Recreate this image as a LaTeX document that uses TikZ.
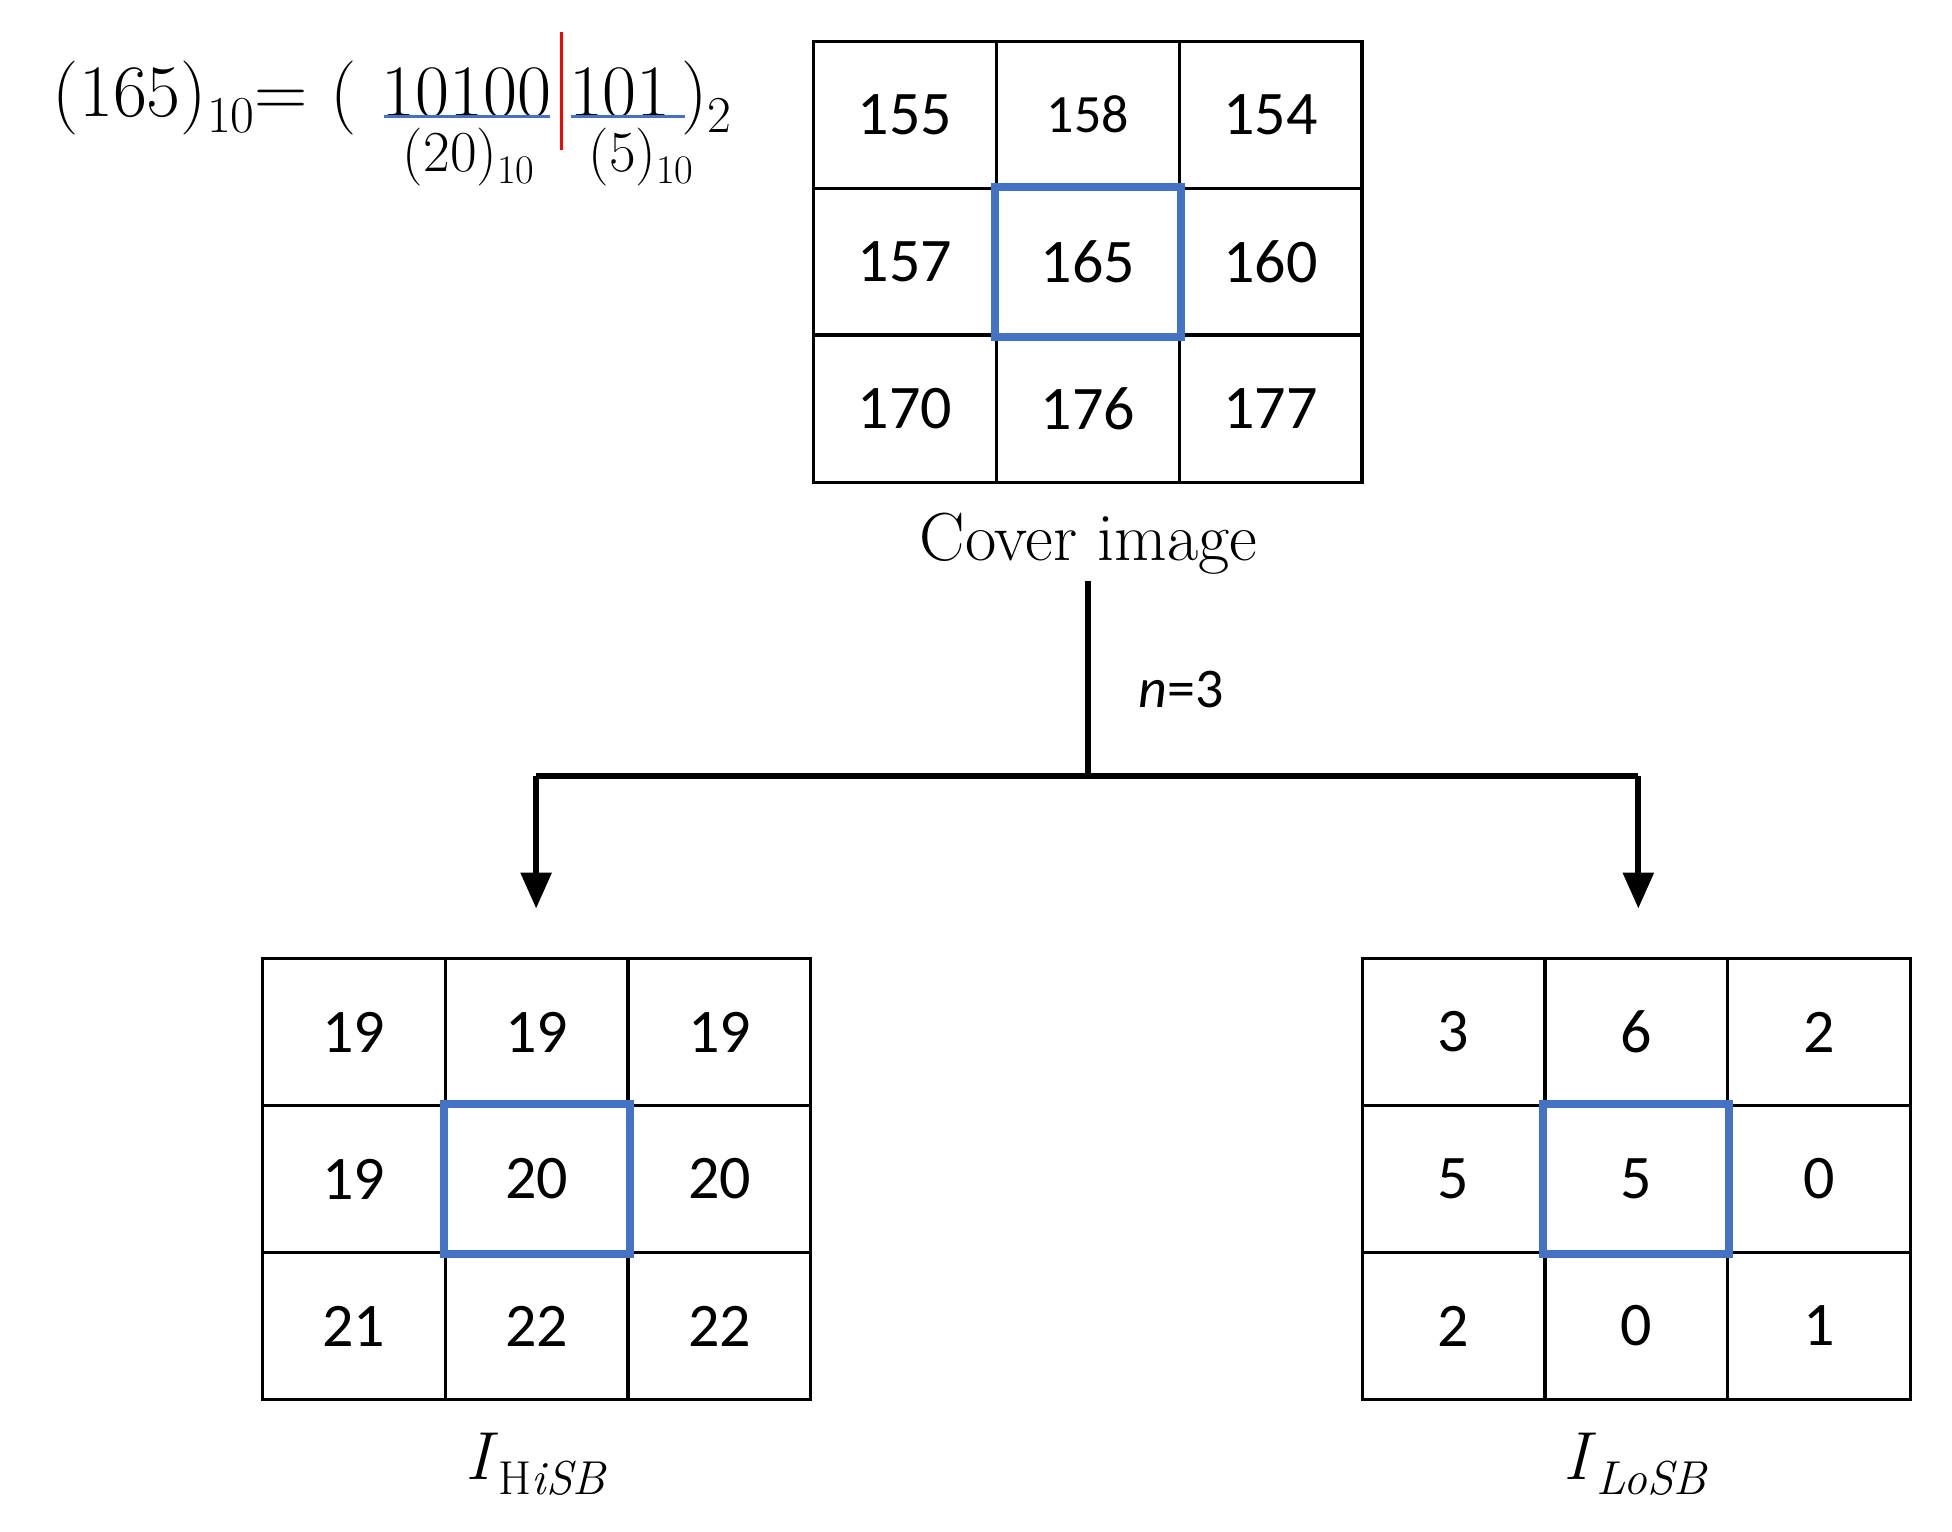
\documentclass[tikz,border=0pt]{standalone}
\usepackage{fontspec}
\newfontfamily\carl{Carlito}
\usetikzlibrary{arrows.meta}
\definecolor{hb}{RGB}{68,114,196}
\expandafter\def\csname fsc1\endcsname{\fontsize{27}{27}\selectfont}
\newcommand\sbs[1]{\raisebox{-0.22em}{\fontsize{0.7em}{0.7em}\selectfont #1}}
\begin{document}
\begin{tikzpicture}[x=0.625pt,y=-0.625pt,
  cell/.style={draw,line width=1.6pt,minimum width=91.4pt,minimum height=73.6pt,inner sep=0pt,font=\carl\fontsize{31}{31}\selectfont},
  hl/.style={draw=hb,line width=4pt},
  conn/.style={line width=3pt},
  arr/.style={conn,-{Triangle[length=18pt,width=15pt]}},
  lab/.style={font=\fontsize{34}{34}\selectfont},
  fm/.style={font=\fontsize{37}{37}\selectfont,anchor=base west,inner sep=0pt}]
\useasboundingbox (0,0) rectangle (1562,1225.6);
% grids
\foreach \g/\x/\y/\vals in {c/651/33/{155,158,154,157,165,160,170,176,177},
  h/210/767/{19,19,19,19,20,20,21,22,22},
  l/1090/767/{3,6,2,5,5,0,2,0,1}}{
  \foreach \v [count=\i from 0] in \vals {
    \pgfmathtruncatemacro\r{int(\i/3)}
    \pgfmathtruncatemacro\cc{mod(\i,3)}
    \node[cell] (\g\i) at ({\x+73.1+146.3*\cc},{\y+58.8+117.6*\r}) {\csname fs\g\i\endcsname\v};
  }
  \draw[hl] (\g4.north west) rectangle (\g4.south east);
}
\node[lab,anchor=north] (cov) at (871,405) {Cover image};
\coordinate (top) at (871,465);
\coordinate (mid) at (871,621);
\coordinate (lt) at (429,621);
\coordinate (rt) at (1311,621);
\coordinate (la) at (429,727);
\coordinate (ra) at (1311,727);
\draw[conn] (top) -- (mid);
\draw[conn] (lt) -- (rt);
\draw[arr] (lt) -- (la);
\draw[arr] (rt) -- (ra);
\node[font=\carl\fontsize{28}{28}\selectfont] (n) at (945,552) {\textit{n}=3};
\node[lab] (ih) at (429,1172) {\textit{I}\sbs{H\textit{iSB}}};
\node[lab] (il) at (1309,1172) {\textit{I}\sbs{\textit{LoSB}}};
% formula
\node[fm] (f1) at (42,93) {(165)\sbs{10}= (};
\node[fm] (f2) at (305,93) {10100};
\node[fm] (f3) at (455,93) {101};
\node[fm] (f4) at (545,93) {)\sbs{2}};
\draw[hb,line width=1.6pt] (307,93) -- (440,93);
\draw[hb,line width=1.6pt] (457,93) -- (548,93);
\draw[red,line width=1.6pt] (449,26) -- (449,120);
\node[font=\fontsize{29}{29}\selectfont,anchor=base] (s1) at (375,137) {(20)\sbs{10}};
\node[font=\fontsize{29}{29}\selectfont,anchor=base] (s2) at (513,137) {(5)\sbs{10}};
\end{tikzpicture}
\end{document}
